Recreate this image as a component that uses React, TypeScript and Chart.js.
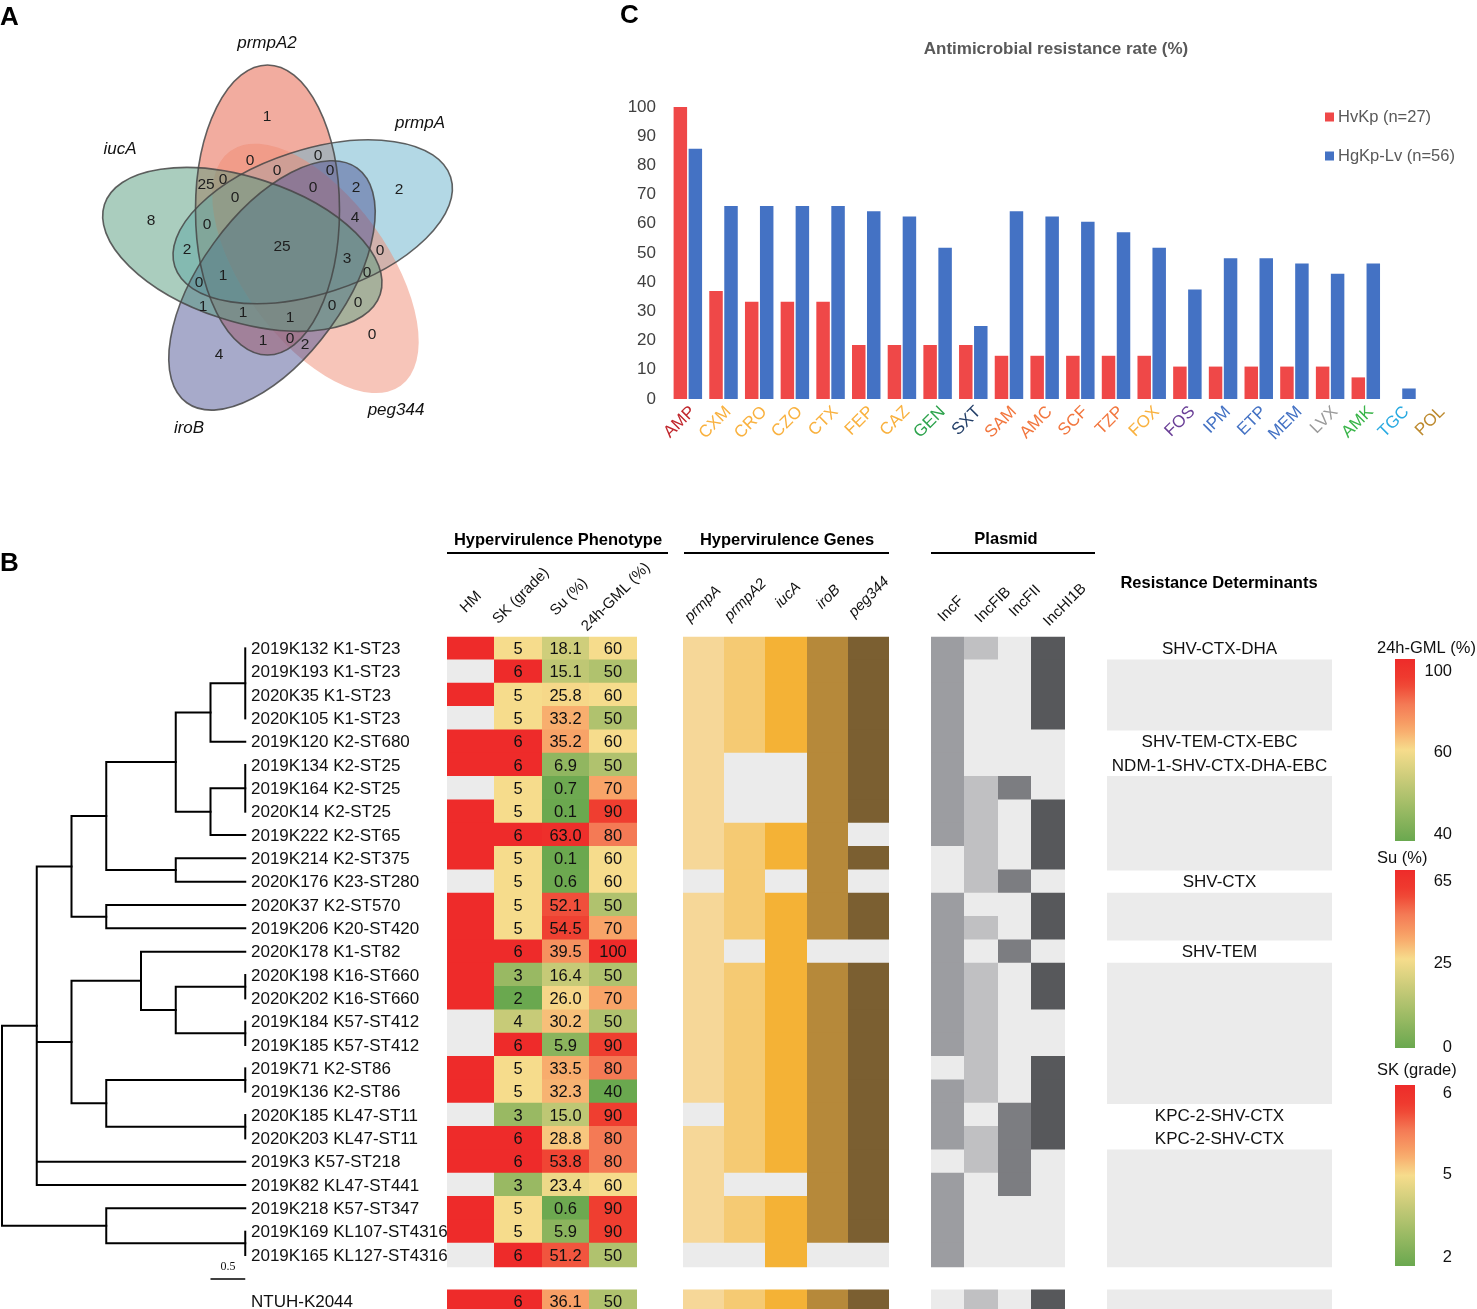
import React, { useEffect, useRef } from 'react';
import { Chart, registerables } from 'chart.js';

Chart.register(...registerables);

const SANS = '"Liberation Sans", Arial, Helvetica, sans-serif';
const SERIF = '"Liberation Serif", "Times New Roman", serif';

/* =================== DATA =================== */

// Panel C – antimicrobial resistance rate (%)
const drugs = ['AMP', 'CXM', 'CRO', 'CZO', 'CTX', 'FEP', 'CAZ', 'GEN', 'SXT', 'SAM', 'AMC', 'SCF', 'TZP', 'FOX', 'FOS', 'IPM', 'ETP', 'MEM', 'LVX', 'AMK', 'TGC', 'POL'];
const hvkpRate = [100, 37.0, 33.3, 33.3, 33.3, 18.5, 18.5, 18.5, 18.5, 14.8, 14.8, 14.8, 14.8, 14.8, 11.1, 11.1, 11.1, 11.1, 11.1, 7.4, 0, 0];
const hgkpLvRate = [85.7, 66.1, 66.1, 66.1, 66.1, 64.3, 62.5, 51.8, 25.0, 64.3, 62.5, 60.7, 57.1, 51.8, 37.5, 48.2, 48.2, 46.4, 42.9, 46.4, 3.6, 0];
const rateSeries = ['HvKp (n=27)', 'HgKp-Lv (n=56)'];
const rateAxis = { min: 0, max: 100, step: 10 };

// Panel A – Venn of hypervirulence genes
const vennSets = ['prmpA2', 'prmpA', 'peg344', 'iroB', 'iucA'];
const vennCounts = [1, 2, 8, 4, 0, 0, 0, 0, 0, 25, 0, 0, 0, 2, 4, 0, 25, 0, 2, 3, 0, 1, 0, 1, 1, 1, 0, 0, 1, 0, 2];

// Panel B – strains
const strains = [
  '2019K132 K1-ST23', '2019K193 K1-ST23', '2020K35 K1-ST23', '2020K105 K1-ST23', '2019K120 K2-ST680',
  '2019K134 K2-ST25', '2019K164 K2-ST25', '2020K14 K2-ST25', '2019K222 K2-ST65', '2019K214 K2-ST375',
  '2020K176 K23-ST280', '2020K37 K2-ST570', '2019K206 K20-ST420', '2020K178 K1-ST82', '2020K198 K16-ST660',
  '2020K202 K16-ST660', '2019K184 K57-ST412', '2019K185 K57-ST412', '2019K71 K2-ST86', '2019K136 K2-ST86',
  '2020K185 KL47-ST11', '2020K203 KL47-ST11', '2019K3 K57-ST218', '2019K82 KL47-ST441', '2019K218 K57-ST347',
  '2019K169 KL107-ST4316', '2019K165 KL127-ST4316',
];
const referenceStrain = 'NTUH-K2044';
// values: 27 strains followed by NTUH-K2044
const hmPhenotype = [1, 0, 1, 0, 1, 1, 0, 1, 1, 1, 0, 1, 1, 1, 1, 1, 0, 0, 1, 1, 0, 1, 1, 0, 1, 1, 0, 1];
const skGrade = [5, 6, 5, 5, 6, 6, 5, 5, 6, 5, 5, 5, 5, 6, 3, 2, 4, 6, 5, 5, 3, 6, 6, 3, 5, 5, 6, 6];
const suPercent = [18.1, 15.1, 25.8, 33.2, 35.2, 6.9, 0.7, 0.1, 63.0, 0.1, 0.6, 52.1, 54.5, 39.5, 16.4, 26.0, 30.2, 5.9, 33.5, 32.3, 15.0, 28.8, 53.8, 23.4, 0.6, 5.9, 51.2, 36.1];
const gml24h = [60, 50, 60, 50, 60, 50, 70, 90, 80, 60, 60, 50, 70, 100, 50, 70, 50, 90, 80, 40, 90, 80, 80, 60, 90, 90, 50, 50];

const geneNames = ['prmpA', 'prmpA2', 'iucA', 'iroB', 'peg344'];
const gPrmpA = [1, 1, 1, 1, 1, 1, 1, 1, 1, 1, 0, 1, 1, 1, 1, 1, 1, 1, 1, 1, 0, 1, 1, 1, 1, 1, 0, 1];
const gPrmpA2 = [1, 1, 1, 1, 1, 0, 0, 0, 1, 1, 1, 1, 1, 0, 1, 1, 1, 1, 1, 1, 1, 1, 1, 0, 1, 1, 0, 1];
const gIucA = [1, 1, 1, 1, 1, 0, 0, 0, 1, 1, 0, 1, 1, 1, 1, 1, 1, 1, 1, 1, 1, 1, 1, 0, 1, 1, 1, 1];
const gIroB = [1, 1, 1, 1, 1, 1, 1, 1, 1, 1, 1, 1, 1, 0, 1, 1, 1, 1, 1, 1, 1, 1, 1, 1, 1, 1, 0, 1];
const gPeg344 = [1, 1, 1, 1, 1, 1, 1, 1, 0, 1, 0, 1, 1, 0, 1, 1, 1, 1, 1, 1, 1, 1, 1, 1, 1, 1, 0, 1];

const plasmidNames = ['IncF', 'IncFIB', 'IncFII', 'IncHI1B'];
const pIncF = [1, 1, 1, 1, 1, 1, 1, 1, 1, 0, 0, 1, 1, 1, 1, 1, 1, 1, 0, 1, 1, 1, 0, 1, 1, 1, 1, 0];
const pIncFIB = [1, 0, 0, 0, 0, 0, 1, 1, 1, 1, 1, 0, 1, 0, 1, 1, 1, 1, 1, 1, 0, 1, 1, 0, 0, 0, 0, 1];
const pIncFII = [0, 0, 0, 0, 0, 0, 1, 0, 0, 0, 1, 0, 0, 1, 0, 0, 0, 0, 0, 0, 1, 1, 1, 1, 0, 0, 0, 0];
const pIncHI1B = [1, 1, 1, 1, 0, 0, 0, 1, 1, 1, 0, 1, 1, 0, 1, 1, 0, 0, 1, 1, 1, 1, 0, 0, 0, 0, 0, 1];

const resistanceDeterminants = [
  'SHV-CTX-DHA', '', '', '', 'SHV-TEM-CTX-EBC', 'NDM-1-SHV-CTX-DHA-EBC', '', '', '', '', 'SHV-CTX', '', '',
  'SHV-TEM', '', '', '', '', '', '', 'KPC-2-SHV-CTX', 'KPC-2-SHV-CTX', '', '', '', '', '', '',
];

// colour-scale legends (min, mid, max)
const gmlScale = [40, 60, 100];
const suScale = [0, 25, 65];
const skScale = [2, 5, 6];

// dendrogram: [depth, ...children]; numbers are strain row indices
const tree: any = [0,
  [0.5,
    [1,
      [1.5,
        [2.5, [3, [3.5, 0, 1, 2, 3], 4], [3, [3.5, 5, 6, 7], 8]],
        [2.5, 9, 10]],
      [1.5, 11, 12]],
    [1,
      [2, 13, [2.5, [3.5, 14, 15], [3.5, 16, 17]]],
      [1.5, [3.5, 18, 19], [3.5, 20, 21]]],
    22, 23],
  [1.5, 24, [3.5, 25, 26]],
];
const treeLeafDepth = 3.5;
const treeScaleBar = 0.5;

/* =================== STYLE / LAYOUT =================== */

const drugLabelColors = ['#c1272d', '#f9b13e', '#f9b13e', '#f9b13e', '#f9b13e', '#f9b13e', '#f9b13e', '#2ea34d', '#233f68',
  '#f2773f', '#f2773f', '#f2773f', '#f2773f', '#f9b13e', '#6a3f97', '#4472c4', '#4472c4', '#4472c4', '#9b9b9b', '#3ab54a', '#29aae1', '#bd8a2e'];
const seriesColors = ['#ef4848', '#4472c4'];

const vennFill = ['rgba(230,95,70,0.52)', 'rgba(110,180,205,0.52)', 'rgba(240,140,115,0.5)', 'rgba(80,85,150,0.5)', 'rgba(85,155,125,0.5)'];
const vennStroke = [true, true, false, true, true];
const VENN = { cx: 282, cy: 247, dx: -14.5, dy: -37, a: 145, b: 72 };
const vennRegionPos = [
  [267, 117], [399, 190], [151, 221], [219, 355], [372, 335], [250, 161], [318, 156], [277, 171], [330, 171], [206, 185],
  [223, 180], [235, 198], [313, 188], [356, 188], [355, 218], [207, 225], [282, 247], [380, 251], [187, 250], [347, 259],
  [367, 273], [223, 276], [199, 283], [203, 307], [243, 313], [290, 318], [332, 306], [358, 303], [263, 341], [290, 339], [305, 345],
];
const vennLabelPos = [[267, 43], [420, 123], [396, 410], [189, 428], [120, 149]];

const GRAY = '#ebebeb';
const HM_RED = '#ee2b2a';
const geneColors = ['#f6d798', '#f5ca73', '#f4b236', '#b6893a', '#7b5f31'];
const plasmidColors = ['#9c9da1', '#c0c0c2', '#7c7d81', '#57585b'];

const B_TOP = 520;
const B_H = 800;
const ROW_TOP = 636.7;
const ROW_H = 23.333;
const LABEL_X = 251;
const TREE_X0 = 2;
const TREE_UNIT = 69.5;
const phenoCols = [[447, 494], [494, 542], [542, 589], [589, 637]];
const geneCols = [[683, 724], [724, 765], [765, 807], [807, 848], [848, 889]];
const plasmidCols = [[931, 964], [964, 998], [998, 1031], [1031, 1065]];
const resCol = [1107, 1332];

/* =================== COLOUR SCALE =================== */
const LOW = [[0, [106, 168, 79]], [1, [246, 220, 140]]];
const HIGH = [[0, [246, 220, 140]], [0.25, [248, 164, 104]], [0.5, [244, 122, 85]], [0.75, [239, 62, 48]], [1, [238, 43, 42]]];
function ramp(stops: any[], t: number) {
  t = Math.max(0, Math.min(1, t));
  for (let i = 1; i < stops.length; i++) {
    if (t <= stops[i][0]) {
      const [t0, c0] = stops[i - 1];
      const [t1, c1] = stops[i];
      const u = (t - t0) / (t1 - t0);
      const c = c0.map((v: number, k: number) => Math.round(v + (c1[k] - v) * u));
      return `rgb(${c[0]},${c[1]},${c[2]})`;
    }
  }
  const c = stops[stops.length - 1][1];
  return `rgb(${c[0]},${c[1]},${c[2]})`;
}
function scaleColor(v: number, s: number[]) {
  if (v <= s[1]) return ramp(LOW, (v - s[0]) / (s[1] - s[0]));
  return ramp(HIGH, (v - s[1]) / (s[2] - s[1]));
}
function unitColor(p: number) {
  return p <= 0.5 ? ramp(LOW, p / 0.5) : ramp(HIGH, (p - 0.5) / 0.5);
}

/* =================== PANEL A =================== */
function ellipsePath(ctx: any, xs: any, ys: any, k: number) {
  const sx = xs.getPixelForValue(1) - xs.getPixelForValue(0);
  const ang = (k * 72 * Math.PI) / 180;
  const ox = VENN.dx * Math.cos(ang) - VENN.dy * Math.sin(ang);
  const oy = VENN.dx * Math.sin(ang) + VENN.dy * Math.cos(ang);
  const px = xs.getPixelForValue(VENN.cx + ox);
  const py = ys.getPixelForValue(VENN.cy + oy);
  ctx.beginPath();
  ctx.ellipse(px, py, VENN.a * sx, VENN.b * sx, -Math.PI / 2 + ang, 0, Math.PI * 2);
}

const vennPlugin = {
  id: 'venn',
  beforeDatasetsDraw(chart: any) {
    const { ctx } = chart;
    const xs = chart.scales.x, ys = chart.scales.y;
    ctx.save();
    vennSets.forEach((_, k) => {
      ellipsePath(ctx, xs, ys, k);
      ctx.fillStyle = vennFill[k];
      ctx.fill();
    });
    vennSets.forEach((_, k) => {
      if (!vennStroke[k]) return;
      ellipsePath(ctx, xs, ys, k);
      ctx.strokeStyle = 'rgba(70,70,70,0.85)';
      ctx.lineWidth = 1.6;
      ctx.stroke();
    });
    ctx.restore();
  },
  afterDatasetsDraw(chart: any) {
    const { ctx } = chart;
    const xs = chart.scales.x, ys = chart.scales.y;
    const meta = chart.getDatasetMeta(0);
    ctx.save();
    ctx.textAlign = 'center';
    ctx.textBaseline = 'middle';
    ctx.fillStyle = '#1e1e1e';
    ctx.font = `15.5px ${SANS}`;
    meta.data.forEach((el: any, i: number) => {
      ctx.fillText(String(vennCounts[i]), el.x, el.y);
    });
    ctx.font = `italic 17px ${SANS}`;
    ctx.fillStyle = '#111';
    vennSets.forEach((name, k) => {
      ctx.fillText(name, xs.getPixelForValue(vennLabelPos[k][0]), ys.getPixelForValue(vennLabelPos[k][1]));
    });
    ctx.font = `bold 26px ${SANS}`;
    ctx.textAlign = 'left';
    ctx.fillStyle = '#000';
    ctx.fillText('A', 0, 18);
    ctx.restore();
  },
};

function PanelA() {
  const ref = useRef<HTMLCanvasElement>(null);
  useEffect(() => {
    const chart = new Chart(ref.current as HTMLCanvasElement, {
      type: 'scatter',
      data: { datasets: [{ data: vennRegionPos.map(([x, y]) => ({ x, y })), pointRadius: 0 }] },
      options: {
        responsive: false,
        animation: false,
        layout: { padding: 0 },
        plugins: { legend: { display: false }, tooltip: { enabled: false } },
        scales: {
          x: { type: 'linear', min: 0, max: 470, display: false },
          y: { type: 'linear', min: 0, max: 450, reverse: true, display: false },
        },
      } as any,
      plugins: [vennPlugin],
    });
    return () => chart.destroy();
  }, []);
  return <canvas ref={ref} width={470} height={450} style={{ position: 'absolute', left: 0, top: 0, width: 470, height: 450 }} />;
}

/* =================== PANEL C =================== */
const C_LEFT = 600;
const panelCPlugin = {
  id: 'panelC',
  afterDraw(chart: any) {
    const { ctx } = chart;
    ctx.save();
    ctx.fillStyle = '#595959';
    ctx.font = `bold 17px ${SANS}`;
    ctx.textAlign = 'center';
    ctx.textBaseline = 'middle';
    ctx.fillText('Antimicrobial resistance rate (%)', 1056 - C_LEFT, 49);
    ctx.font = `16.5px ${SANS}`;
    ctx.textAlign = 'left';
    chart.data.datasets.forEach((ds: any, i: number) => {
      const y = 117.5 + i * 39;
      ctx.fillStyle = ds.backgroundColor;
      ctx.fillRect(1325 - C_LEFT, y - 5, 9, 9);
      ctx.fillStyle = '#595959';
      ctx.fillText(ds.label, 1338 - C_LEFT, y);
    });
    ctx.fillStyle = '#000';
    ctx.font = `bold 26px ${SANS}`;
    ctx.fillText('C', 620 - C_LEFT, 16);
    ctx.restore();
  },
};

function PanelC() {
  const ref = useRef<HTMLCanvasElement>(null);
  useEffect(() => {
    const chart = new Chart(ref.current as HTMLCanvasElement, {
      type: 'bar',
      data: {
        labels: drugs,
        datasets: [
          { label: rateSeries[0], data: hvkpRate, backgroundColor: seriesColors[0], categoryPercentage: 0.84, barPercentage: 0.9, borderWidth: 0 },
          { label: rateSeries[1], data: hgkpLvRate, backgroundColor: seriesColors[1], categoryPercentage: 0.84, barPercentage: 0.9, borderWidth: 0 },
        ],
      },
      options: {
        responsive: false,
        animation: false,
        layout: { padding: { top: 107, right: 22, left: 0, bottom: 0 } },
        plugins: { legend: { display: false }, tooltip: { enabled: false } },
        scales: {
          x: {
            grid: { display: false, drawTicks: false },
            border: { display: false },
            ticks: {
              autoSkip: false,
              minRotation: 45,
              maxRotation: 45,
              padding: 3,
              labelOffset: 5,
              color: (c: any) => drugLabelColors[c.index],
              font: { family: SANS, size: 17 },
            },
            afterFit: (s: any) => { s.height = 81; },
          },
          y: {
            min: rateAxis.min,
            max: rateAxis.max,
            grid: { display: false, drawTicks: false },
            border: { display: false },
            ticks: { stepSize: rateAxis.step, padding: 14, color: '#404040', font: { family: SANS, size: 17 } },
            afterFit: (s: any) => { s.width = 70; },
          },
        },
      } as any,
      plugins: [panelCPlugin],
    });
    return () => chart.destroy();
  }, []);
  return <canvas ref={ref} width={877} height={480} style={{ position: 'absolute', left: C_LEFT, top: 0, width: 877, height: 480 }} />;
}

/* =================== PANEL B =================== */
const allRows = [...strains, referenceStrain];
const yLabels = [...strains, '', referenceStrain];
const chartRowOf = (r: number) => (r < strains.length ? r : r + 1);

function cellDataset(extent: number[], colorOf: (r: number) => string | null) {
  const data: any[] = yLabels.map(() => null);
  const colors: string[] = yLabels.map(() => 'rgba(0,0,0,0)');
  allRows.forEach((_, r) => {
    const c = colorOf(r);
    if (c) {
      data[chartRowOf(r)] = [extent[0], extent[1]];
      colors[chartRowOf(r)] = c;
    }
  });
  return { type: 'bar', data, backgroundColor: colors, grouped: false, barPercentage: 1.05, categoryPercentage: 1, borderWidth: 0 };
}

const geneValues = [gPrmpA, gPrmpA2, gIucA, gIroB, gPeg344];
const plasmidValues = [pIncF, pIncFIB, pIncFII, pIncHI1B];

const valueColumns = [
  { ds: 1, values: skGrade, digits: 0 },
  { ds: 2, values: suPercent, digits: 1 },
  { ds: 3, values: gml24h, digits: 0 },
];

const headers = [
  { text: 'Hypervirulence Phenotype', x: 558, y: 540, line: [447, 668] },
  { text: 'Hypervirulence Genes', x: 787, y: 540, line: [684, 889] },
  { text: 'Plasmid', x: 1006, y: 539, line: [931, 1095] },
];
const colLabels = [
  { text: 'HM', x: 471, y: 602, italic: false },
  { text: 'SK (grade)', x: 521, y: 596, italic: false },
  { text: 'Su (%)', x: 569, y: 597, italic: false },
  { text: '24h-GML (%)', x: 616, y: 597, italic: false },
  ...geneNames.map((g, i) => ({ text: g, x: [703, 745.5, 788, 828.5, 869][i], y: [604, 600, 595, 597, 597][i], italic: true })),
  ...plasmidNames.map((p, i) => ({ text: p, x: [951, 993, 1025, 1065][i], y: [609, 605, 601, 605][i], italic: false })),
];
const colorbars = [
  { title: '24h-GML (%)', scale: gmlScale, titleY: 648, top: 659, bottom: 841, tickY: [834, 752, 671] },
  { title: 'Su (%)', scale: suScale, titleY: 858, top: 870, bottom: 1048, tickY: [1047, 963, 881] },
  { title: 'SK (grade)', scale: skScale, titleY: 1070, top: 1085, bottom: 1266, tickY: [1257, 1174, 1093] },
];

const panelBPlugin = {
  id: 'panelB',
  afterDatasetsDraw(chart: any) {
    const { ctx } = chart;
    const xs = chart.scales.x, ys = chart.scales.y;
    const X = (v: number) => xs.getPixelForValue(v);
    const Y = (r: number) => ys.getPixelForValue(chartRowOf(r));
    const P = (pageY: number) => pageY - B_TOP;
    ctx.save();
    ctx.fillStyle = '#111';
    ctx.textAlign = 'center';
    ctx.textBaseline = 'middle';

    // values in phenotype cells
    ctx.font = `16.5px ${SANS}`;
    valueColumns.forEach(({ ds, values, digits }) => {
      const meta = chart.getDatasetMeta(ds);
      values.forEach((v, r) => {
        const el = meta.data[chartRowOf(r)];
        if (!el) return;
        const c = el.getCenterPoint();
        ctx.fillText(v.toFixed(digits), c.x, c.y + 1);
      });
    });

    // resistance determinants
    ctx.font = `17px ${SANS}`;
    resistanceDeterminants.forEach((t, r) => {
      if (t) ctx.fillText(t, X((resCol[0] + resCol[1]) / 2), Y(r) + 1);
    });

    // strain labels
    ctx.textAlign = 'left';
    allRows.forEach((n, r) => ctx.fillText(n, X(LABEL_X), Y(r) + 1));

    // dendrogram
    const TX = (d: number) => X(TREE_X0 + d * TREE_UNIT);
    ctx.strokeStyle = '#000';
    ctx.lineWidth = 2;
    ctx.lineCap = 'square';
    const drawNode = (node: any): { y: number; d: number } => {
      if (typeof node === 'number') return { y: Y(node), d: treeLeafDepth };
      const [d, ...kids] = node;
      const res = kids.map(drawNode);
      const x0 = TX(d);
      ctx.beginPath();
      ctx.moveTo(x0, res[0].y);
      ctx.lineTo(x0, res[res.length - 1].y);
      res.forEach((k: any) => {
        if (k.d !== d) {
          ctx.moveTo(x0, k.y);
          ctx.lineTo(TX(k.d), k.y);
        }
      });
      ctx.stroke();
      return { y: (res[0].y + res[res.length - 1].y) / 2, d };
    };
    drawNode(tree);
    // scale bar
    ctx.lineWidth = 1.5;
    ctx.lineCap = 'butt';
    ctx.beginPath();
    ctx.moveTo(TX(treeLeafDepth - treeScaleBar), P(1279));
    ctx.lineTo(TX(treeLeafDepth), P(1279));
    ctx.stroke();
    ctx.textAlign = 'center';
    ctx.font = `12px ${SERIF}`;
    ctx.fillText(String(treeScaleBar), TX(treeLeafDepth - treeScaleBar / 2), P(1267));

    // headers
    ctx.font = `bold 16.5px ${SANS}`;
    ctx.fillStyle = '#000';
    headers.forEach((h) => {
      ctx.fillText(h.text, X(h.x), P(h.y));
      ctx.beginPath();
      ctx.moveTo(X(h.line[0]), P(553));
      ctx.lineTo(X(h.line[1]), P(553));
      ctx.lineWidth = 2;
      ctx.stroke();
    });
    ctx.fillText('Resistance Determinants', X(1219), P(583));

    // rotated column labels
    colLabels.forEach((c) => {
      ctx.save();
      ctx.translate(X(c.x), P(c.y));
      ctx.rotate(-Math.PI / 4);
      ctx.font = `${c.italic ? 'italic ' : ''}15px ${SANS}`;
      ctx.fillStyle = '#111';
      ctx.fillText(c.text, 0, 0);
      ctx.restore();
    });

    // colour bars
    colorbars.forEach((cb) => {
      const g = ctx.createLinearGradient(0, P(cb.bottom), 0, P(cb.top));
      for (let i = 0; i <= 20; i++) g.addColorStop(i / 20, unitColor(i / 20));
      ctx.fillStyle = g;
      ctx.fillRect(X(1395), P(cb.top), X(1415) - X(1395), P(cb.bottom) - P(cb.top));
      ctx.fillStyle = '#111';
      ctx.font = `16.5px ${SANS}`;
      ctx.textAlign = 'left';
      ctx.fillText(cb.title, X(1377), P(cb.titleY));
      ctx.textAlign = 'right';
      cb.scale.forEach((v, i) => ctx.fillText(String(v), X(1452), P(cb.tickY[i])));
    });

    ctx.textAlign = 'left';
    ctx.font = `bold 26px ${SANS}`;
    ctx.fillStyle = '#000';
    ctx.fillText('B', 0, P(564));
    ctx.restore();
  },
};

function PanelB() {
  const ref = useRef<HTMLCanvasElement>(null);
  useEffect(() => {
    const datasets: any[] = [
      cellDataset(phenoCols[0], (r) => (hmPhenotype[r] ? HM_RED : GRAY)),
      cellDataset(phenoCols[1], (r) => scaleColor(skGrade[r], skScale)),
      cellDataset(phenoCols[2], (r) => scaleColor(suPercent[r], suScale)),
      cellDataset(phenoCols[3], (r) => scaleColor(gml24h[r], gmlScale)),
      ...geneValues.map((vals, i) => cellDataset(geneCols[i], (r) => (vals[r] ? geneColors[i] : GRAY))),
      ...plasmidValues.map((vals, i) => cellDataset(plasmidCols[i], (r) => (vals[r] ? plasmidColors[i] : GRAY))),
      cellDataset(resCol, (r) => (resistanceDeterminants[r] ? null : GRAY)),
    ];
    const padTop = ROW_TOP - B_TOP;
    const chart = new Chart(ref.current as HTMLCanvasElement, {
      type: 'bar',
      data: { labels: yLabels, datasets },
      options: {
        indexAxis: 'y',
        responsive: false,
        animation: false,
        layout: { padding: { top: padTop, bottom: B_H - padTop - ROW_H * yLabels.length, left: 0, right: 0 } },
        plugins: { legend: { display: false }, tooltip: { enabled: false } },
        scales: {
          x: { type: 'linear', min: 0, max: 1477, display: false },
          y: { type: 'category', display: false },
        },
      } as any,
      plugins: [panelBPlugin],
    });
    return () => chart.destroy();
  }, []);
  return <canvas ref={ref} width={1477} height={B_H} style={{ position: 'absolute', left: 0, top: B_TOP, width: 1477, height: B_H }} />;
}

export default function App() {
  return (
    <div style={{ position: 'absolute', left: 0, top: 0, width: 1477, height: 1309, overflow: 'hidden', background: '#fff' }}>
      <PanelA />
      <PanelC />
      <PanelB />
    </div>
  );
}
